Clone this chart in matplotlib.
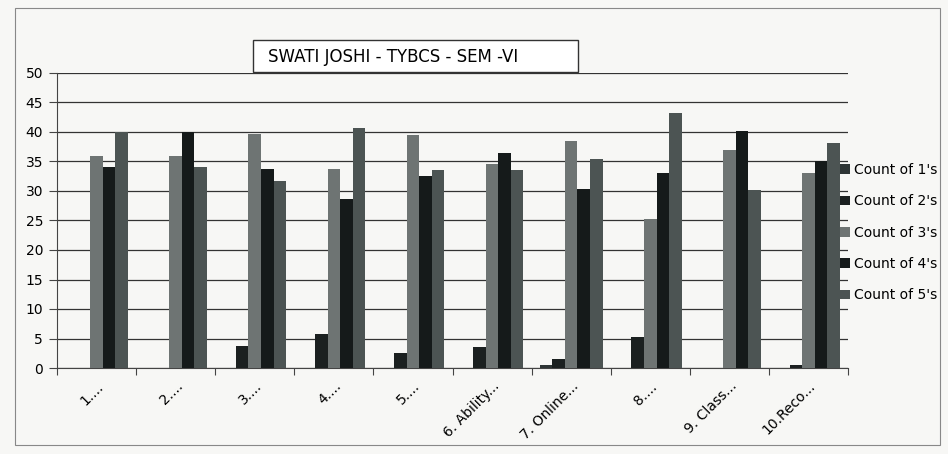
import numpy as np
import matplotlib
matplotlib.use('Agg')
import matplotlib.pyplot as plt
from matplotlib.patches import Rectangle

categories = ['1....', '2....', '3....', '4....', '5....', '6. Ability...',
              '7. Online...', '8....', '9. Class...', '10.Reco...']
series = ["Count of 1's", "Count of 2's", "Count of 3's", "Count of 4's", "Count of 5's"]

ones   = [0, 0, 0, 0, 0, 0, 0.5, 0, 0, 0]
twos   = [0, 0, 3.8, 5.7, 2.6, 3.5, 1.5, 5.3, 0, 0.5]
threes = [36, 36, 39.7, 33.7, 39.5, 34.6, 38.4, 25.2, 37, 33]
fours  = [34, 40, 33.7, 28.6, 32.5, 36.5, 30.3, 33.1, 40.2, 35.1]
fives  = [40, 34, 31.7, 40.6, 33.5, 33.5, 35.4, 43.3, 30.1, 38.1]

values = [ones, twos, threes, fours, fives]
colours = ['#2e3535', '#1b2020', '#6e7473', '#151a1a', '#4c5453']

bg = '#f7f7f5'
fig = plt.figure(figsize=(9.48, 4.54), dpi=100, facecolor=bg)
fig.patches.append(Rectangle((15/948, 1 - 445/454), 925/948, 437/454, transform=fig.transFigure,
                             fill=False, edgecolor='#888888', lw=0.8))
ax = fig.add_axes([57/948, 1 - 368/454, 791/948, 295/454])
ax.set_facecolor('none')

x = np.arange(len(categories))
w = 1 / 6.3
for i, (vals, c) in enumerate(zip(values, colours)):
    ax.bar(x + (i - 2) * w, vals, width=w, color=c, label=series[i], zorder=3)

ax.set_xlim(-0.5, len(categories) - 0.5)
ax.set_ylim(0, 50)
ax.set_yticks(range(0, 51, 5))
ax.tick_params(axis='y', labelsize=10, length=6, width=0.8, color='#444444', pad=4)
ax.yaxis.grid(True, color='#333333', lw=0.9, zorder=0)

ax.set_xticks(np.arange(-0.5, len(categories), 1), minor=False)
ax.set_xticklabels([])
ax.set_xticks(x, minor=True)
ax.set_xticklabels(categories, minor=True, rotation=45, ha='right', rotation_mode='anchor',
                   fontsize=10)
ax.tick_params(axis='x', which='major', length=5, width=0.8, color='#444444')
ax.tick_params(axis='x', which='minor', length=0, pad=8)

for s in ['top', 'right']:
    ax.spines[s].set_visible(False)
ax.spines['left'].set_color('#444444')
ax.spines['bottom'].set_color('#444444')

# title box
fig.patches.append(Rectangle((253/948, 1 - 72/454), 325/948, 32/454, transform=fig.transFigure,
                             facecolor='white', edgecolor='#333333', lw=1, zorder=5))
fig.text(268/948, 1 - 57/454, 'SWATI JOSHI - TYBCS - SEM -VI', ha='left', va='center',
         fontsize=12, zorder=6)

ax.legend(loc='upper left', bbox_to_anchor=(0.99, 0.695), frameon=False, fontsize=10,
          handlelength=0.7, handleheight=0.7, handletextpad=0.3, labelspacing=1.25,
          borderpad=0, borderaxespad=0)

plt.savefig('out.png', dpi=100, facecolor=bg)
